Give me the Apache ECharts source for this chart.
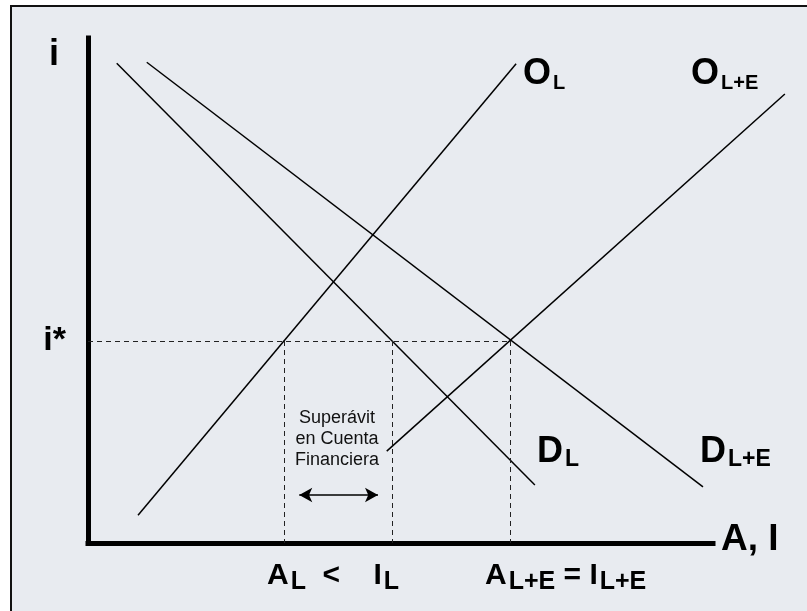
<!DOCTYPE html>
<html>
<head>
<meta charset="utf-8">
<script src="https://cdn.jsdelivr.net/npm/echarts@6/dist/echarts.min.js"></script>
<style>
  html, body { margin: 0; padding: 0; background: #fff; }
  #chart { width: 807px; height: 611px; }
</style>
</head>
<body>
<div id="chart"></div>
<script>
// ejes en unidades arbitrarias (el eje A, I llega hasta 100)
const xMax = 112;
const xAxisEnd = 100;
const yMax = 100;
const iStar = 40;

// curvas: [inicio, fin]
const supplyL = [[8.0, 5.5], [68.5, 94.9]];      // O_L
const supplyLE = [[47.8, 18.2], [111.5, 88.9]];  // O_L+E
const demandL = [[4.6, 95.0], [71.5, 11.5]];     // D_L
const demandLE = [[9.4, 95.2], [98.4, 11.1]];    // D_L+E

// cantidades en i*
const qAL = 31.4;
const qIL = 48.6;
const qALE = 67.6;

// flecha del superavit
const arrowX = [33.8, 46.4];
const arrowY = 9.5;

const font = 'Liberation Sans, Arial, sans-serif';

const chart = echarts.init(document.getElementById('chart'));

function curve(name, data) {
    return {
        name: name,
        type: 'line',
        data: data,
        symbol: 'none',
        clip: false,
        silent: true,
        lineStyle: { color: '#000', width: 1.5 }
    };
}

// subindices con texto enriquecido
function subRich(big, small, pad) {
    return {
        m: { fontSize: big, fontWeight: 'bold', fontFamily: font, fill: '#000' },
        s: { fontSize: small, fontWeight: 'bold', fontFamily: font, fill: '#000', padding: [pad, 0, 0, 2] }
    };
}

function label(text, x, y, big, small, pad) {
    return {
        type: 'text',
        x: x,
        y: y,
        silent: true,
        style: {
            text: text,
            rich: subRich(big, small, pad),
            align: 'left',
            verticalAlign: 'middle'
        }
    };
}

const guideLines = [
    [{ coord: [0, iStar] }, { coord: [qALE, iStar] }],
    [{ coord: [qAL, iStar] }, { coord: [qAL, 0] }],
    [{ coord: [qIL, iStar] }, { coord: [qIL, 0] }],
    [{ coord: [qALE, iStar] }, { coord: [qALE, 0] }]
];

const demandLSeries = curve('D_L', demandL);
demandLSeries.markLine = {
    silent: true,
    symbol: 'none',
    animation: false,
    label: { show: false },
    lineStyle: { color: '#222', width: 1, type: [5, 4] },
    data: guideLines
};

const supplyLSeries = curve('O_L', supplyL);
supplyLSeries.markLine = {
    silent: true,
    symbol: ['arrow', 'arrow'],
    symbolSize: [11, 13],
    animation: false,
    label: { show: false },
    lineStyle: { color: '#000', width: 1.5, type: 'solid' },
    data: [[{ coord: [arrowX[0], arrowY] }, { coord: [arrowX[1], arrowY] }]]
};

// eje horizontal A, I (mas corto que la rejilla)
const axisSeries = {
    name: 'ejeX',
    type: 'line',
    data: [],
    clip: false,
    silent: true,
    markLine: {
        silent: true,
        symbol: 'none',
        animation: false,
        label: { show: false },
        lineStyle: { color: '#000', width: 5, type: 'solid', cap: 'square' },
        data: [[{ coord: [0, 0] }, { coord: [xAxisEnd, 0] }]]
    }
};

const option = {
    animation: false,
    backgroundColor: '#fff',
    grid: { left: 88, right: 19, top: 38, bottom: 68 },
    xAxis: {
        type: 'value',
        min: 0,
        max: xMax,
        axisLine: { show: false },
        axisTick: { show: false },
        axisLabel: { show: false },
        splitLine: { show: false }
    },
    yAxis: {
        type: 'value',
        min: 0,
        max: yMax,
        interval: 40,
        axisLine: { show: true, lineStyle: { color: '#000', width: 5, cap: 'square' } },
        axisTick: { show: false },
        splitLine: { show: false },
        axisLabel: {
            margin: 22,
            color: '#000',
            fontSize: 34,
            fontWeight: 'bold',
            fontFamily: font,
            padding: [0, 0, 24, 0],
            formatter: function (v) { return v === iStar ? 'i*' : ''; }
        }
    },
    graphic: [
        {
            type: 'rect',
            z: -1,
            silent: true,
            shape: { x: 11, y: 6, width: 830, height: 640 },
            style: { fill: '#e8ebf0', stroke: '#111', lineWidth: 2 }
        },
        label('{m|i}', 49, 55, 36, 18, 0),
        label('{m|O}{s|L}', 523, 74, 36, 20, 18),
        label('{m|O}{s|L+E}', 691, 74, 36, 20, 18),
        label('{m|D}{s|L}', 537, 452, 36, 23, 16),
        label('{m|D}{s|L+E}', 700, 452, 36, 23, 16),
        label('{m|A, I}', 721, 540, 37, 18, 0),
        label('{m|A}{s|L}{m|  <    I}{s|L}', 267, 576, 30, 25, 12),
        label('{m|A}{s|L+E}{m| = I}{s|L+E}', 485, 576, 30, 25, 12),
        {
            type: 'text',
            x: 337,
            y: 439,
            silent: true,
            style: {
                text: 'Superávit\nen Cuenta\nFinanciera',
                font: '18px ' + font,
                fill: '#111',
                align: 'center',
                verticalAlign: 'middle',
                lineHeight: 21
            }
        }
    ],
    series: [
        axisSeries,
        demandLSeries,
        curve('D_L+E', demandLE),
        supplyLSeries,
        curve('O_L+E', supplyLE)
    ]
};

chart.setOption(option);
</script>
</body>
</html>
